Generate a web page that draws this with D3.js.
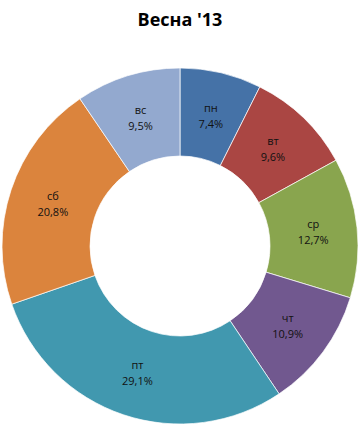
<!DOCTYPE html>
<html><head><meta charset="utf-8">
<script src="https://cdn.jsdelivr.net/npm/d3@7"></script>
<style>body{margin:0;background:#fff}svg{display:block}</style>
</head><body>
<svg id="c" width="359" height="425"></svg>
<script>
const categories = ["пн","вт","ср","чт","пт","сб","вс"];
const values = [7.4, 9.6, 12.7, 10.9, 29.1, 20.8, 9.5];
const colors = ["#4572A7","#AA4643","#89A54E","#71588F","#4198AF","#DB843D","#93A9CF"];
const title = "Весна '13";

const svg = d3.select("#c");
const cx = 180, cy = 246, R = 178, r = 90;
svg.append("text").attr("x", 180).attr("y", 26).attr("text-anchor","middle")
  .attr("font-family","Open Sans, Liberation Sans, sans-serif").attr("font-weight","bold")
  .attr("font-size", 18).attr("fill","#000").text(title);

const data = categories.map((c,i)=>({c, v: values[i], col: colors[i]}));
const pie = d3.pie().value(d=>d.v).sort(null);
const arc = d3.arc().innerRadius(r).outerRadius(R);
const labelArc = d3.arc().innerRadius((r+R)/2).outerRadius((r+R)/2);
const g = svg.append("g").attr("transform",`translate(${cx},${cy})`);
const arcs = pie(data);
g.selectAll("path").data(arcs).enter().append("path")
  .attr("d", arc).attr("fill", d=>d.data.col).attr("stroke","#fff").attr("stroke-width",0.7);
const fmt = v => v.toFixed(1).replace(".", ",") + "%";
const lbl = g.selectAll("g.l").data(arcs).enter().append("g")
  .attr("transform", d=>`translate(${labelArc.centroid(d)})`);
lbl.append("text").attr("text-anchor","middle").attr("y",-4)
  .attr("font-family","Open Sans, Liberation Sans, sans-serif").attr("font-size",11).attr("fill","#111")
  .text(d=>d.data.c);
lbl.append("text").attr("text-anchor","middle").attr("y",12)
  .attr("font-family","Open Sans, Liberation Sans, sans-serif").attr("font-size",11).attr("fill","#111")
  .text(d=>fmt(d.data.v));
</script>
</body></html>
